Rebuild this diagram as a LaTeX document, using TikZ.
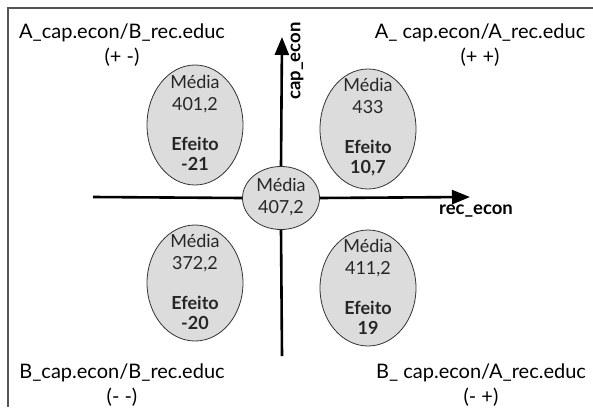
\documentclass[tikz,border=0pt]{standalone}
\usepackage{fontspec}
\setmainfont{Lato}
\usetikzlibrary{arrows.meta,shapes.geometric}
\definecolor{framegray}{HTML}{555555}
\definecolor{ellfill}{HTML}{DCDCDC}
\definecolor{ellline}{HTML}{333333}
\tikzset{
  cell/.style={ellipse, draw=ellline, fill=ellfill, line width=0.8pt, inner sep=0pt},
  bigcell/.style={cell, minimum width=96pt, minimum height=120pt},
  midcell/.style={cell, minimum width=77pt, minimum height=63pt},
  celltext/.style={align=center, font=\fontsize{18}{21.5}\selectfont, text=black!85},
  corner/.style={align=center, font=\fontsize{20}{25}\selectfont},
  axis/.style={line width=2.6pt, black},
  axistip/.style={-{Triangle[length=18pt,width=14pt]}},
  axislabel/.style={font=\bfseries\fontsize{18.5}{20}\selectfont}
}
\begin{document}
\begin{tikzpicture}[x=1pt,y=-1pt]
\useasboundingbox (0,0) rectangle (593,407);
\fill[white] (0,0) rectangle (593,407);
\draw[framegray, line width=1.6pt] (8,407) -- (8,8) -- (594,8);

% axes end points
\coordinate (ytop) at (282,37);
\coordinate (ybot) at (282,356);
\coordinate (xleft) at (93,197);
\coordinate (xright) at (470,197);

\node[midcell] (c) at (281,198) {};
\draw[axis] (c.south) -- (ybot);
\draw[axis, axistip] (c.north) -- (ytop);
\draw[axis] (c.west) -- (xleft);
\draw[axis, axistip] (c.east) -- (xright);
\node[celltext] (ct) at (281,197) {Média\\407,2};

\node[bigcell] (tl) at (195,125) {};
\node[celltext] (tlt) at (195,123) {Média\\401,2\\[19pt]\textbf{Efeito}\\[-2pt]\textbf{-21}};
\node[bigcell] (tr) at (368,129) {};
\node[celltext] (trt) at (368,127) {Média\\433\\[19pt]\textbf{Efeito}\\[-2pt]\textbf{10,7}};
\node[bigcell, minimum height=116pt] (bl) at (195,283) {};
\node[celltext] (blt) at (195,282) {Média\\372,2\\[19pt]\textbf{Efeito}\\[-2pt]\textbf{-20}};
\node[bigcell, minimum height=116pt] (br) at (368,288) {};
\node[celltext] (brt) at (368,287) {Média\\411,2\\[19pt]\textbf{Efeito}\\[-2pt]\textbf{19}};

\node[axislabel, rotate=90] (ylab) at (297,61) {cap\_econ};
\node[axislabel] (xlab) at (476,211) {rec\_econ};

\node[corner] (ctl) at (122,45) {A\_cap.econ/B\_rec.educ\\(+ -)};
\node[corner] (ctr) at (480,45) {A\_ cap.econ/A\_rec.educ\\(+ +)};
\node[corner] (cbl) at (122,385) {B\_cap.econ/B\_rec.educ\\(- -)};
\node[corner] (cbr) at (481,385) {B\_ cap.econ/A\_rec.educ\\(- +)};
\end{tikzpicture}
\end{document}
